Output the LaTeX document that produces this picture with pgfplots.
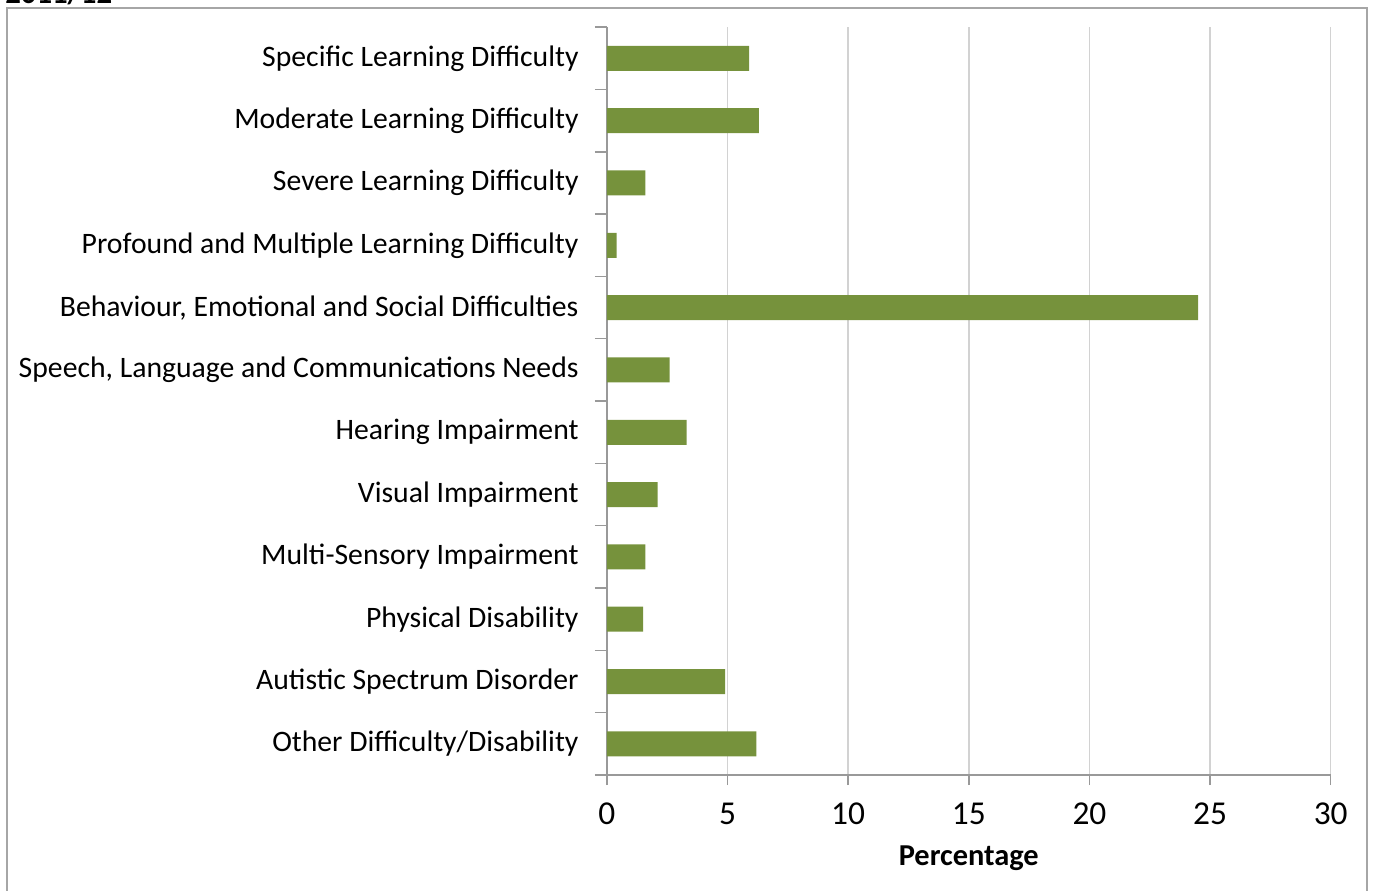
\documentclass[border=0pt]{standalone}
\usepackage{pgfplots}
\pgfplotsset{compat=1.18}
\usepackage{fontspec}
\setmainfont{Carlito}
\definecolor{barc}{RGB}{118,146,60}
\begin{document}
\begin{tikzpicture}[x=0.02cm,y=0.02cm]
\useasboundingbox (0,0) rectangle (1373,890);
\clip (0,0) rectangle (1373,890);
\draw[gray!70, line width=0.8pt] (7,-5) rectangle (1367,882);
\node[anchor=base west, inner sep=0pt, font=\bfseries\fontsize{17.5pt}{20pt}\selectfont] at (5,886) {2011/12};
\begin{axis}[
  at={(12.14cm,2.30cm)}, anchor=south west,
  scale only axis, width=14.48cm, height=14.96cm,
  xbar, bar width=0.5cm,
  xmin=0, xmax=30, ymin=-0.5, ymax=11.5, y dir=reverse,
  axis lines*=left,
  axis line style={draw=gray!80, line width=0.8pt},
  xtick={0,5,...,30},
  xmajorgrids, grid style={gray!35, line width=0.8pt},
  tick align=outside,
  major tick length=0.2cm, minor tick length=0.24cm,
  tick style={gray!80, line width=0.8pt},
  every major y tick/.style={draw=none},
  ytick={0,...,11},
  minor ytick={-0.5,0.5,...,11.5},
  yticklabels={Specific Learning Difficulty, Moderate Learning Difficulty, Severe Learning Difficulty, Profound and Multiple Learning Difficulty, {Behaviour, Emotional and Social Difficulties}, {Speech, Language and Communications Needs}, Hearing Impairment, Visual Impairment, Multi-Sensory Impairment, Physical Disability, Autistic Spectrum Disorder, Other Difficulty/Disability},
  yticklabel style={anchor=east, inner sep=0pt, xshift=-0.36cm, font=\fontsize{16.9pt}{19pt}\selectfont},
  xticklabel style={anchor=north, inner sep=0pt, yshift=-0.35cm, font=\fontsize{19pt}{22pt}\selectfont},
  /pgf/number format/assume math mode=true,
  xlabel={\textbf{Percentage}},
  xlabel style={font=\fontsize{17.3pt}{19pt}\selectfont, inner sep=0pt, yshift=-0.42cm},
]
\addplot[draw=none, fill=barc] coordinates {
(5.9,0) (6.3,1) (1.6,2) (0.4,3) (24.5,4) (2.6,5) (3.3,6) (2.1,7) (1.6,8) (1.5,9) (4.9,10) (6.2,11)
};
\end{axis}
\end{tikzpicture}
\end{document}
